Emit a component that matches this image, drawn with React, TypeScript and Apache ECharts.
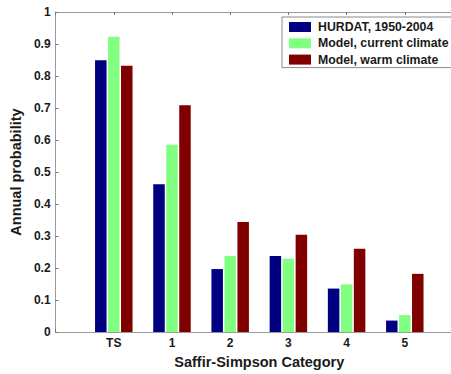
import React, { useEffect, useRef } from "react";
import * as echarts from "echarts";

const categories = ["TS", "1", "2", "3", "4", "5"];
const seriesNames = ["HURDAT, 1950-2004", "Model, current climate", "Model, warm climate"];
const hurdat = [0.849, 0.462, 0.197, 0.238, 0.136, 0.036];
const modelCurrent = [0.923, 0.585, 0.238, 0.229, 0.149, 0.053];
const modelWarm = [0.832, 0.709, 0.344, 0.304, 0.26, 0.182];
const colors = ["#000080", "#80ff80", "#800000"];

export default function App() {
  const ref = useRef<HTMLDivElement>(null);
  useEffect(() => {
    if (!ref.current) return;
    const chart = echarts.init(ref.current, null, { renderer: "svg" });
    // pad categories so that x-limits span [0, 7] like the original axes
    const cats = ["", ...categories, ""];
    const pad = (arr: number[]) => ["-", ...arr, "-"];
    const font = "Liberation Sans, Arial, sans-serif";
    const allData = [hurdat, modelCurrent, modelWarm];
    chart.setOption({
      animation: false,
      backgroundColor: "#ffffff",
      grid: {
        left: 53,
        right: 17,
        top: 12,
        bottom: 39,
        show: false,
      },
      legend: {
        orient: "vertical",
        left: 282,
        top: 17,
        padding: [4, 200, 2, 7],
        itemWidth: 22,
        itemHeight: 10,
        itemGap: 4.3,
        icon: "rect",
        borderColor: "#8a8a8a",
        borderWidth: 1,
        backgroundColor: "#ffffff",
        data: seriesNames,
        textStyle: {
          fontFamily: font,
          fontWeight: "bold",
          fontSize: 12.3,
          color: "#1a1a1a",
          lineHeight: 10,
          padding: [0, 0, 0, 2],
        },
      },
      xAxis: [
        {
          type: "category",
          data: cats,
          boundaryGap: false,
          position: "bottom",
          axisLine: { show: true, lineStyle: { color: "#9a9a9a", width: 1 } },
          axisTick: { show: true, inside: true, length: 3, lineStyle: { color: "#777" } },
          axisLabel: {
            fontFamily: font,
            fontWeight: "bold",
            fontSize: 12,
            color: "#1a1a1a",
            margin: 5,
          },
          name: "Saffir-Simpson Category",
          nameLocation: "middle",
          nameGap: 18,
          nameTextStyle: {
            fontFamily: font,
            fontWeight: "bold",
            fontSize: 14.5,
            color: "#1a1a1a",
          },
          splitLine: { show: false },
        },
        {
          type: "category",
          data: cats,
          boundaryGap: false,
          position: "top",
          axisLine: { show: true, lineStyle: { color: "#9a9a9a", width: 1 } },
          axisTick: { show: true, inside: true, length: 3, lineStyle: { color: "#777" } },
          axisLabel: { show: false },
          splitLine: { show: false },
        },
      ],
      yAxis: {
        type: "value",
        min: 0,
        max: 1,
        interval: 0.1,
        axisLine: { show: true, lineStyle: { color: "#9a9a9a", width: 1 } },
        axisTick: { show: true, inside: true, length: 3, lineStyle: { color: "#777" } },
        splitLine: { show: false },
        axisLabel: {
          fontFamily: font,
          fontWeight: "bold",
          fontSize: 12,
          color: "#1a1a1a",
          margin: 5,
          formatter: (v: number) => String(Math.round(v * 10) / 10),
        },
        name: "Annual probability",
        nameLocation: "middle",
        nameGap: 26,
        nameTextStyle: {
          fontFamily: font,
          fontWeight: "bold",
          fontSize: 14.5,
          color: "#1a1a1a",
        },
      },
      series: seriesNames.map((name, i) => ({
        name,
        type: "bar",
        xAxisIndex: 0,
        data: pad(allData[i]),
        barWidth: 11.5,
        barGap: "13%",
        itemStyle: { color: colors[i] },
      })),
    });
    return () => chart.dispose();
  }, []);
  return (
    <div
      ref={ref}
      style={{ position: "fixed", left: 0, top: 0, width: 480, height: 374, background: "#fff" }}
    />
  );
}
